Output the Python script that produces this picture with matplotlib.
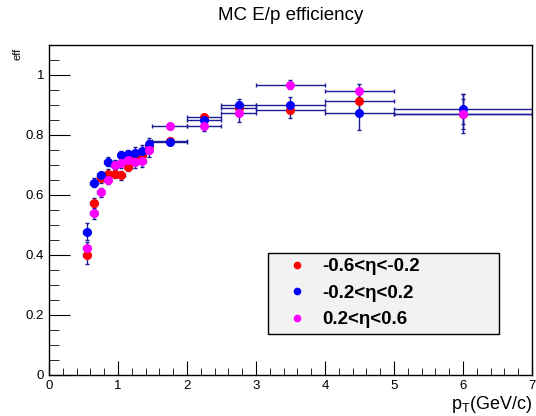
import numpy as np
import matplotlib
matplotlib.use('Agg')
import matplotlib.pyplot as plt
from matplotlib.lines import Line2D
from matplotlib.ticker import MultipleLocator, FormatStrFormatter

plt.rcParams['font.family'] = ['Liberation Sans', 'DejaVu Sans']
plt.rcParams['mathtext.fontset'] = 'custom'
plt.rcParams['mathtext.rm'] = 'Liberation Sans'

# pT bins (centre and half width)
pt = [0.55, 0.65, 0.75, 0.85, 0.95, 1.05, 1.15, 1.25, 1.35, 1.45, 1.75, 2.25, 2.75, 3.5, 4.5, 6.0]
pt_err = [0.05, 0.05, 0.05, 0.05, 0.05, 0.05, 0.05, 0.05, 0.05, 0.05, 0.25, 0.25, 0.25, 0.5, 0.5, 1.0]

# efficiency per eta slice
eff_neg = [0.40, 0.573, 0.655, 0.671, 0.671, 0.666, 0.693, 0.715, 0.732, 0.763, 0.78, 0.86, 0.89, 0.882, 0.913, 0.871]
err_neg = [0.03, 0.015, 0.015, 0.015, 0.015, 0.015, 0.015, 0.015, 0.015, 0.02, 0.01, 0.01, 0.02, 0.024, 0.03, 0.05]
eff_mid = [0.477, 0.64, 0.665, 0.71, 0.70, 0.732, 0.735, 0.74, 0.745, 0.769, 0.777, 0.851, 0.899, 0.899, 0.873, 0.888]
err_mid = [0.028, 0.015, 0.012, 0.015, 0.015, 0.015, 0.015, 0.02, 0.02, 0.02, 0.01, 0.017, 0.02, 0.026, 0.055, 0.05]
eff_pos = [0.423, 0.538, 0.608, 0.651, 0.699, 0.705, 0.718, 0.708, 0.713, 0.751, 0.829, 0.831, 0.873, 0.968, 0.946, 0.871]
err_pos = [0.02, 0.018, 0.015, 0.015, 0.015, 0.015, 0.015, 0.02, 0.02, 0.025, 0.01, 0.019, 0.03, 0.015, 0.025, 0.064]

labels = ['-0.6<η<-0.2', '-0.2<η<0.2', '0.2<η<0.6']
colors = ['#ff0000', '#0000ff', '#ff00ff']

fig = plt.figure(figsize=(5.36, 4.16), dpi=100)
ax = fig.add_axes([0.0914, 0.0993, 0.9011, 0.7925])

bar_col = '#1c1c96'
for y, e, c in zip([eff_neg, eff_mid, eff_pos], [err_neg, err_mid, err_pos], colors):
    ax.errorbar(pt, y, xerr=pt_err, yerr=e, fmt='o', color=c, ms=5.5,
                ecolor=bar_col, elinewidth=1, capsize=1.6, capthick=1, mec=c)

ax.set_xlim(0, 7)
ax.set_ylim(0, 1.1)
ax.xaxis.set_major_locator(MultipleLocator(1))
ax.xaxis.set_minor_locator(MultipleLocator(0.2))
ax.yaxis.set_major_locator(MultipleLocator(0.2))
ax.yaxis.set_minor_locator(MultipleLocator(0.05))
ax.yaxis.set_major_formatter(FormatStrFormatter('%g'))
ax.tick_params(which='both', direction='in', top=False, right=False, labelsize=9.5)
ax.tick_params(axis='x', which='major', length=10)
ax.tick_params(axis='x', which='minor', length=5)
ax.tick_params(axis='y', which='major', length=15)
ax.tick_params(axis='y', which='minor', length=7.5)
for s in ax.spines.values():
    s.set_linewidth(1)

fig.text(0.5425, 0.962, 'MC E/p efficiency', ha='center', va='center', fontsize=13.5)
fig.text(0.033, 0.886, 'eff', rotation=90, ha='center', va='top', fontsize=8)
fig.text(0.9925, 0.028, r'p$_{\mathrm{T}}$(GeV/c)', ha='right', va='center', fontsize=13)

handles = [Line2D([], [], ls='none', marker='o', color=c, ms=4.5) for c in colors]
leg = ax.legend(handles, labels, loc='center left', bbox_to_anchor=(0.454, 0.1225, 0.478, 0.2485),
                mode='expand', fancybox=False, framealpha=1, edgecolor='black',
                facecolor='#f2f2f2', prop={'weight': 'bold', 'size': 13.5},
                borderpad=0.3, labelspacing=0.5, handlelength=2.5, handletextpad=0.1,
                borderaxespad=0)
leg.get_frame().set_linewidth(1)

fig.savefig('out.png', dpi=100)
